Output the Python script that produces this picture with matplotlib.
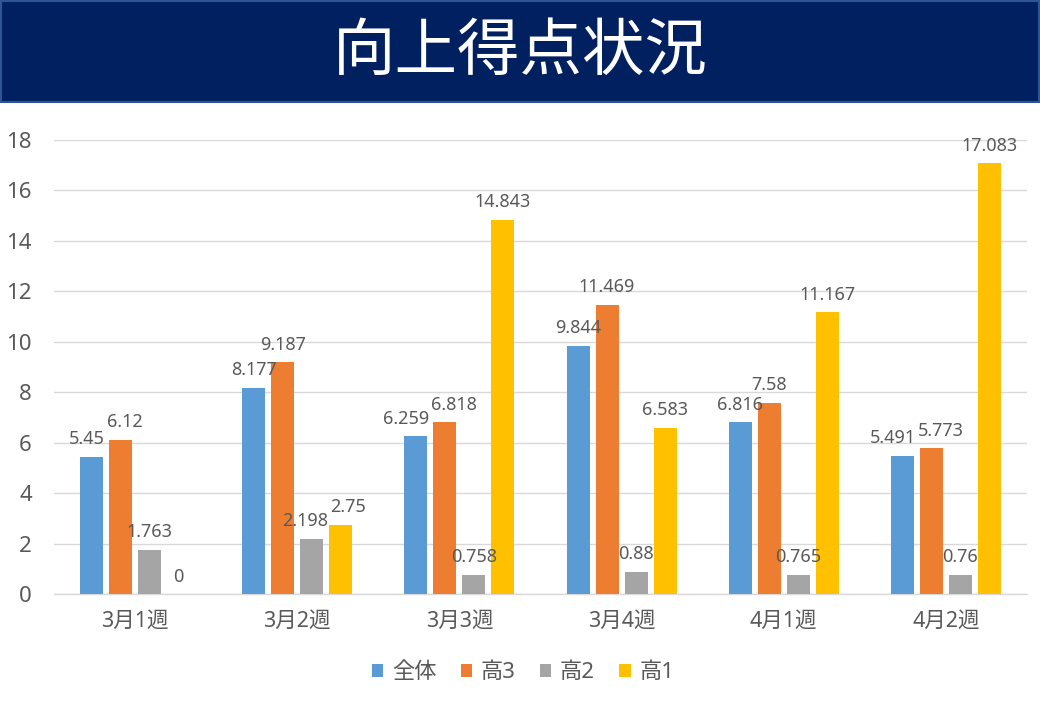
import matplotlib
matplotlib.use("Agg")
import matplotlib.pyplot as plt
from matplotlib.patches import Rectangle
import numpy as np

plt.rcParams['font.family'] = ['Noto Sans', 'Noto Sans CJK JP', 'DejaVu Sans']

categories = ["3月1週", "3月2週", "3月3週", "3月4週", "4月1週", "4月2週"]
series_names = ["全体", "高3", "高2", "高1"]
zentai = [5.45, 8.177, 6.259, 9.844, 6.816, 5.491]
kou3 = [6.12, 9.187, 6.818, 11.469, 7.58, 5.773]
kou2 = [1.763, 2.198, 0.758, 0.88, 0.765, 0.76]
kou1 = [0, 2.75, 14.843, 6.583, 11.167, 17.083]
yticks = [0, 2, 4, 6, 8, 10, 12, 14, 16, 18]
title = "向上得点状況"

colors = ["#5B9BD5", "#ED7D31", "#A5A5A5", "#FFC000"]
text_color = "#595959"

fig = plt.figure(figsize=(10.4, 7.2), dpi=100)
fig.patch.set_facecolor("white")

# Title banner
banner = Rectangle((0.001, 1 - 102 / 720), 0.998, 102 / 720 - 0.002,
                   transform=fig.transFigure, facecolor="#002060",
                   edgecolor="#2F5597", linewidth=1.5, zorder=0)
fig.patches.append(banner)
fig.text(0.5, 1 - 52 / 720, title, color="white", fontsize=45,
         ha="center", va="center", fontweight="normal",
         family=['Noto Sans CJK JP'])

ax = fig.add_axes([54 / 1040, 1 - 594 / 720, (1027 - 54) / 1040, (594 - 140) / 720])

x = np.arange(len(categories))
width = 0.142
step = 0.179
all_series = [zentai, kou3, kou2, kou1]
labels = []
for i, (vals, name, c) in enumerate(zip(all_series, series_names, colors)):
    offs = (i - 1.5) * step
    bars = ax.bar(x + offs, vals, width, color=c, label=name, zorder=3)
    row = []
    for b, v in zip(bars, vals):
        t = ax.annotate(f"{v:g}", (b.get_x() + b.get_width() / 2, b.get_height()),
                        xytext=(0, 9), textcoords="offset points",
                        ha="center", va="baseline", fontsize=13, color=text_color,
                        zorder=4)
        row.append(t)
    labels.append(row)

ax.set_xlim(-0.5, len(categories) - 0.5)
ax.set_ylim(0, 18)
ax.set_yticks(yticks)
ax.set_xticks(x)
ax.set_xticklabels(categories)
ax.tick_params(axis="y", length=0, pad=16, labelsize=16, labelcolor=text_color)
ax.tick_params(axis="x", length=0, pad=12, labelsize=15.5, labelcolor=text_color)
ax.grid(axis="y", color="#D9D9D9", linewidth=1, zorder=0)
for s in ["top", "right", "left"]:
    ax.spines[s].set_visible(False)
ax.spines["bottom"].set_color("#D9D9D9")
ax.spines["bottom"].set_linewidth(1)
ax.set_facecolor("white")

leg = fig.legend(loc="center", bbox_to_anchor=(0.503, 1 - 673 / 720), ncol=4,
                 frameon=False, fontsize=16, handlelength=0.5, handleheight=0.5,
                 handletextpad=0.4, columnspacing=1.1)
for t in leg.get_texts():
    t.set_color(text_color)

# Small horizontal nudge for neighbouring labels that collide
fig.canvas.draw()
renderer = fig.canvas.get_renderer()
for j in range(len(categories)):
    for i in range(len(all_series) - 1):
        a, b = labels[i][j], labels[i + 1][j]
        ba, bb = a.get_window_extent(renderer), b.get_window_extent(renderer)
        if ba.overlaps(bb):
            dx = (ba.x1 - bb.x0) / 2 + 1
            ax_, ay_ = a.xyann
            bx_, by_ = b.xyann
            a.xyann = (ax_ - dx * 72 / fig.dpi, ay_)
            b.xyann = (bx_ + dx * 72 / fig.dpi, by_)

fig.savefig("out.png", dpi=100, facecolor="white")
